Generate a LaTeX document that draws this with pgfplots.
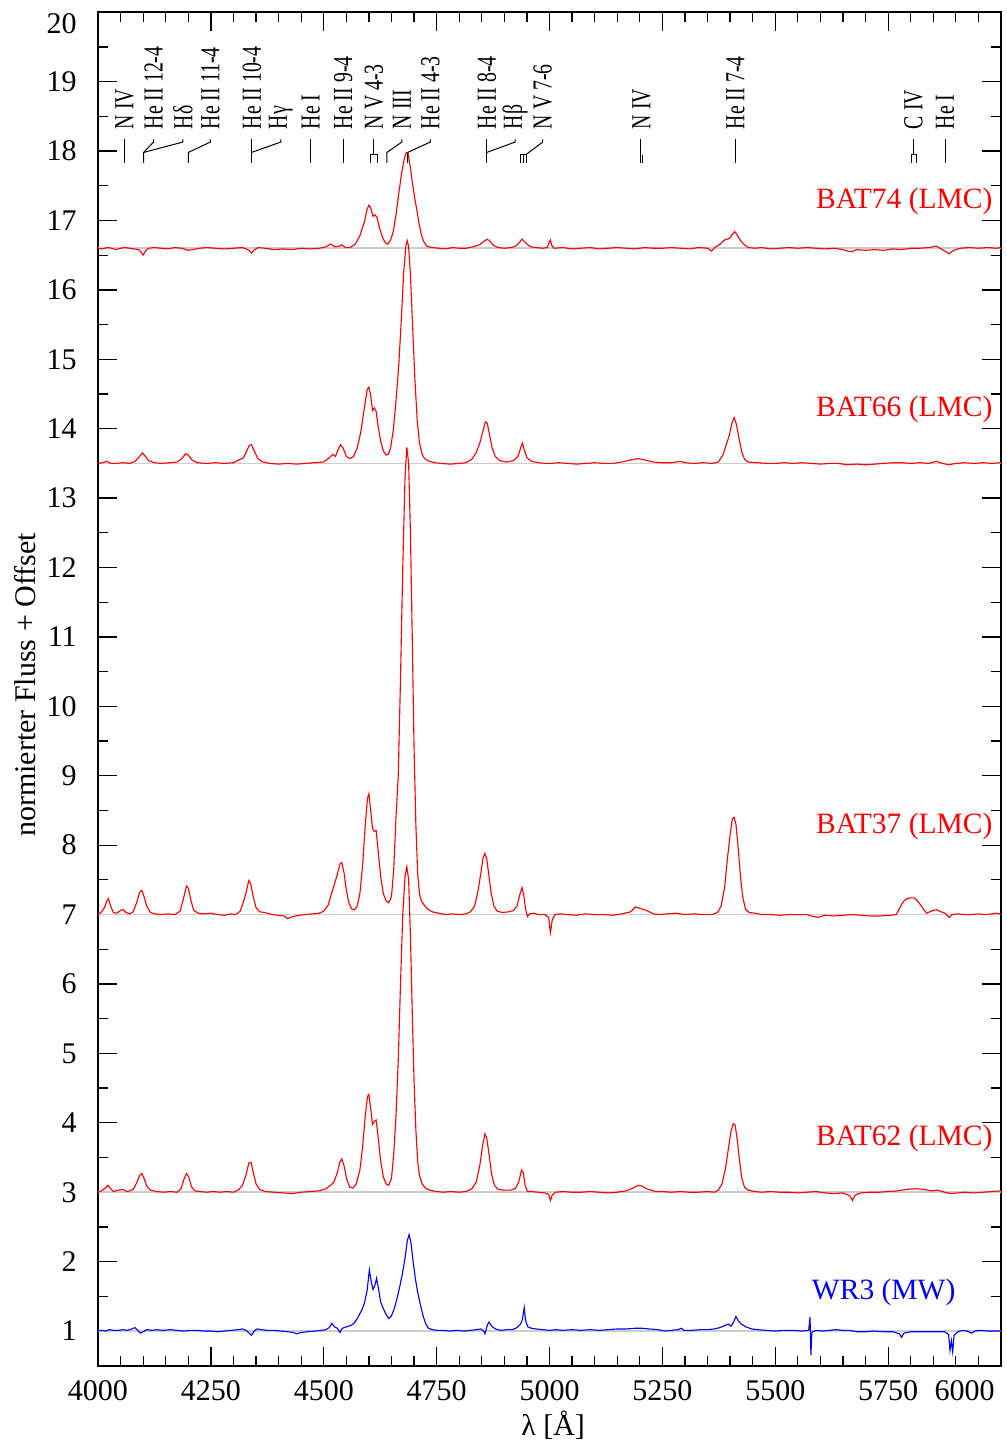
\documentclass[border=0pt]{standalone}
\usepackage{fontspec}
\setmainfont{Liberation Serif}
\usepackage{graphicx}
\usepackage{pgfplots}
\pgfplotsset{compat=1.18}
\definecolor{basegray}{RGB}{205,205,205}
\newcommand{\lab}[1]{\scalebox{0.72}[1]{#1}}
\begin{document}
\begin{tikzpicture}
\useasboundingbox (-39.2pt,-31.7pt) rectangle (363.2pt,546.3pt);
\begin{axis}[
  at={(0,0)}, anchor=south west,
  scale only axis, width=361.2pt, height=541.4pt,
  xmin=4000, xmax=6000, ymin=0.5, ymax=20,
  xtick={4000,4250,...,5750},
  extra x ticks={6000},
  extra x tick style={tick label style={anchor=north east, xshift=1pt}},
  minor xtick={4050,4100,...,5950},
  ytick={1,2,...,19},
  extra y ticks={20},
  extra y tick style={tick label style={yshift=-4.6pt}},
  minor ytick={1.5,2.5,...,19.5},
  major tick length=7.6pt, minor tick length=4pt,
  tick style={black, line width=0.5pt},
  axis line style={line width=0.7pt},
  /pgf/number format/assume math mode=true,
  /pgf/number format/1000 sep={},
  tick label style={font=\fontsize{12}{14}\selectfont},
  xticklabel style={yshift=-2.4pt},
  yticklabel style={xshift=-5pt},
  xlabel={λ [Å]}, ylabel={normierter Fluss + Offset},
  label style={font=\fontsize{12}{14}\selectfont},
  xlabel style={at={(axis description cs:0.504,-0.0438)}, anchor=center},
  ylabel style={at={(axis description cs:-0.0808,0.503)}, anchor=center},
]
% baselines
\addplot[basegray, line width=0.6pt] coordinates {(4000,16.6) (6000,16.6)};
\addplot[basegray, line width=0.6pt] coordinates {(4000,13.5) (6000,13.5)};
\addplot[basegray, line width=0.6pt] coordinates {(4000,7) (6000,7)};
\addplot[basegray, line width=0.6pt] coordinates {(4000,3) (6000,3)};
\addplot[basegray, line width=0.6pt] coordinates {(4000,1) (6000,1)};

% line identification markers
\addplot[black, line width=0.4pt] coordinates {(4059,17.83) (4059,18.17)};
\addplot[black, line width=0.4pt] coordinates {(4101,17.83) (4101,17.98) (4123,18.13) (4123,18.17)};
\addplot[black, line width=0.4pt] coordinates {(4101,17.98) (4188,18.13) (4188,18.17)};
\addplot[black, line width=0.4pt] coordinates {(4200,17.83) (4200,17.98) (4249,18.13) (4249,18.17)};
\addplot[black, line width=0.4pt] coordinates {(4340,17.83) (4340,18.17)};
\addplot[black, line width=0.4pt] coordinates {(4340,17.98) (4405,18.13) (4405,18.17)};
\addplot[black, line width=0.4pt] coordinates {(4471,17.83) (4471,18.17)};
\addplot[black, line width=0.4pt] coordinates {(4543,17.83) (4543,18.17)};
\addplot[black, line width=0.4pt] coordinates {(4604,17.83) (4604,17.95) (4620,17.95) (4620,17.83)};
\addplot[black, line width=0.4pt] coordinates {(4611,17.95) (4611,18.17)};
\addplot[black, line width=0.4pt] coordinates {(4640,17.83) (4640,17.98) (4673,18.13) (4673,18.17)};
\addplot[black, line width=0.4pt] coordinates {(4686,17.83) (4686,17.98) (4736,18.13) (4736,18.17)};
\addplot[black, line width=0.4pt] coordinates {(4861,17.83) (4861,18.17)};
\addplot[black, line width=0.4pt] coordinates {(4861,17.98) (4924,18.13) (4924,18.17)};
\addplot[black, line width=0.4pt] coordinates {(4936,17.83) (4936,17.95) (4948,17.95) (4948,17.83)};
\addplot[black, line width=0.4pt] coordinates {(4942,17.83) (4942,17.95)};
\addplot[black, line width=0.4pt] coordinates {(4948,17.95) (4985,18.13) (4985,18.17)};
\addplot[black, line width=0.4pt] coordinates {(5202,17.83) (5202,18.17)};
\addplot[black, line width=0.4pt] coordinates {(5206,17.83) (5206,17.95)};
\addplot[black, line width=0.4pt] coordinates {(5412,17.83) (5412,18.17)};
\addplot[black, line width=0.4pt] coordinates {(5801,17.83) (5801,17.95) (5812,17.95) (5812,17.83)};
\addplot[black, line width=0.4pt] coordinates {(5806,17.95) (5806,18.17)};
\addplot[black, line width=0.4pt] coordinates {(5876,17.83) (5876,18.17)};

% BAT74
\addplot[red, line width=0.45pt] coordinates {
(4000,16.60) (4010,16.59) (4020,16.61) (4030,16.60) (4040,16.58) (4050,16.60) (4060,16.61) (4070,16.60) (4080,16.59) (4090,16.58) (4095,16.55) (4100,16.50) (4105,16.56) (4112,16.60) (4125,16.61) (4140,16.60) (4155,16.59) (4170,16.61) (4185,16.60) (4200,16.57) (4210,16.58) (4225,16.60) (4240,16.61) (4260,16.60) (4280,16.59) (4300,16.60) (4320,16.61) (4335,16.57) (4340,16.53) (4345,16.57) (4355,16.61) (4370,16.60) (4390,16.58) (4410,16.59) (4430,16.58) (4450,16.60) (4470,16.59) (4490,16.60) (4505,16.62) (4515,16.66) (4525,16.62) (4535,16.63) (4540,16.65) (4548,16.61) (4558,16.61) (4570,16.66) (4580,16.78) (4590,16.98) (4596,17.16) (4600,17.22) (4604,17.18) (4609,17.06) (4614,17.08) (4618,17.04) (4624,16.88) (4630,16.76) (4636,16.68) (4642,16.66) (4648,16.72) (4654,16.84) (4660,17.08) (4666,17.38) (4672,17.66) (4678,17.88) (4683,17.98) (4687,17.96) (4691,17.80) (4696,17.56) (4701,17.34) (4706,17.16) (4711,16.96) (4716,16.80) (4721,16.70) (4728,16.63) (4740,16.61) (4755,16.60) (4770,16.59) (4785,16.61) (4800,16.60) (4815,16.60) (4830,16.62) (4845,16.65) (4855,16.70) (4862,16.73) (4868,16.70) (4876,16.64) (4886,16.61) (4900,16.60) (4915,16.61) (4925,16.63) (4933,16.68) (4939,16.73) (4944,16.70) (4950,16.66) (4958,16.62) (4970,16.61) (4985,16.60) (4995,16.61) (4999,16.68) (5002,16.72) (5005,16.64) (5010,16.60) (5030,16.61) (5050,16.59) (5070,16.60) (5090,16.61) (5110,16.59) (5130,16.60) (5150,16.61) (5170,16.60) (5190,16.59) (5210,16.61) (5230,16.60) (5250,16.60) (5270,16.61) (5290,16.60) (5310,16.59) (5330,16.61) (5350,16.60) (5359,16.56) (5366,16.61) (5378,16.66) (5388,16.72) (5398,16.74) (5405,16.80) (5410,16.84) (5415,16.80) (5422,16.72) (5430,16.66) (5440,16.61) (5455,16.60) (5470,16.61) (5490,16.59) (5510,16.60) (5530,16.61) (5550,16.60) (5570,16.61) (5590,16.60) (5610,16.59) (5630,16.60) (5650,16.58) (5660,16.56) (5670,16.55) (5680,16.58) (5700,16.57) (5720,16.58) (5740,16.57) (5760,16.59) (5780,16.58) (5800,16.60) (5820,16.60) (5840,16.61) (5857,16.63) (5870,16.58) (5885,16.52) (5895,16.57) (5910,16.60) (5930,16.61) (5950,16.60) (5970,16.61) (5990,16.60) (6000,16.61)};

% BAT66
\addplot[red, line width=0.45pt] coordinates {
(4000,13.50) (4010,13.51) (4020,13.53) (4028,13.50) (4040,13.50) (4055,13.51) (4070,13.50) (4082,13.53) (4092,13.60) (4098,13.65) (4104,13.61) (4112,13.54) (4125,13.51) (4140,13.50) (4160,13.51) (4175,13.52) (4186,13.57) (4194,13.64) (4200,13.62) (4208,13.55) (4220,13.51) (4240,13.50) (4260,13.51) (4280,13.50) (4300,13.51) (4315,13.56) (4322,13.58) (4328,13.66) (4335,13.76) (4340,13.77) (4346,13.68) (4354,13.57) (4365,13.52) (4380,13.50) (4400,13.49) (4420,13.50) (4440,13.49) (4460,13.50) (4480,13.51) (4500,13.52) (4512,13.58) (4520,13.63) (4526,13.60) (4532,13.70) (4537,13.77) (4543,13.72) (4550,13.60) (4558,13.57) (4566,13.60) (4574,13.72) (4582,13.95) (4590,14.30) (4596,14.56) (4600,14.60) (4604,14.48) (4608,14.26) (4612,14.30) (4616,14.25) (4620,14.05) (4626,13.82) (4632,13.68) (4638,13.62) (4643,13.63) (4648,13.72) (4654,13.98) (4660,14.40) (4666,14.90) (4672,15.60) (4677,16.25) (4682,16.64) (4685,16.71) (4688,16.62) (4692,16.22) (4697,15.45) (4702,14.70) (4707,14.12) (4712,13.80) (4717,13.65) (4722,13.58) (4730,13.54) (4745,13.51) (4760,13.50) (4780,13.49) (4800,13.50) (4815,13.51) (4828,13.56) (4838,13.66) (4846,13.80) (4852,13.95) (4858,14.10) (4862,14.08) (4867,13.92) (4873,13.72) (4880,13.60) (4890,13.54) (4905,13.52) (4920,13.54) (4930,13.60) (4936,13.72) (4940,13.79) (4944,13.70) (4950,13.58) (4960,13.53) (4975,13.51) (4990,13.50) (5005,13.50) (5020,13.51) (5040,13.50) (5060,13.49) (5080,13.50) (5100,13.51) (5120,13.50) (5140,13.50) (5160,13.52) (5180,13.55) (5196,13.57) (5210,13.55) (5230,13.52) (5250,13.51) (5270,13.51) (5290,13.53) (5300,13.51) (5320,13.50) (5340,13.51) (5360,13.50) (5374,13.52) (5384,13.62) (5392,13.78) (5398,13.90) (5404,14.08) (5409,14.16) (5414,14.06) (5420,13.85) (5426,13.66) (5432,13.56) (5440,13.52) (5460,13.51) (5480,13.50) (5500,13.50) (5520,13.51) (5540,13.50) (5560,13.51) (5580,13.50) (5600,13.49) (5620,13.50) (5640,13.50) (5660,13.48) (5680,13.49) (5700,13.48) (5720,13.49) (5740,13.50) (5760,13.51) (5780,13.51) (5800,13.50) (5820,13.51) (5840,13.50) (5857,13.53) (5870,13.50) (5885,13.48) (5900,13.50) (5920,13.51) (5940,13.50) (5960,13.51) (5980,13.50) (6000,13.51)};

% BAT37
\addplot[red, line width=0.45pt] coordinates {
(4000,7.00) (4008,7.04) (4014,7.10) (4020,7.20) (4023,7.23) (4028,7.12) (4034,7.03) (4042,7.02) (4050,7.06) (4056,7.07) (4062,7.03) (4070,7.01) (4078,7.04) (4086,7.18) (4092,7.32) (4097,7.35) (4102,7.26) (4108,7.12) (4116,7.03) (4126,7.01) (4140,7.00) (4155,7.01) (4170,7.00) (4182,7.05) (4190,7.25) (4196,7.41) (4200,7.38) (4206,7.20) (4212,7.06) (4222,7.02) (4235,7.01) (4250,7.02) (4265,7.00) (4280,6.99) (4295,7.01) (4305,7.00) (4315,7.05) (4322,7.18) (4328,7.32) (4334,7.49) (4338,7.45) (4344,7.25) (4350,7.10) (4358,7.04) (4370,7.03) (4385,7.00) (4400,6.99) (4412,6.98) (4420,6.94) (4430,6.97) (4445,6.99) (4460,7.00) (4475,7.01) (4490,7.02) (4500,7.05) (4510,7.14) (4517,7.30) (4522,7.40) (4530,7.58) (4536,7.73) (4540,7.75) (4545,7.60) (4550,7.35) (4556,7.16) (4562,7.08) (4568,7.07) (4574,7.12) (4580,7.30) (4586,7.70) (4592,8.30) (4597,8.68) (4600,8.74) (4604,8.50) (4608,8.24) (4612,8.20) (4616,8.21) (4620,7.95) (4626,7.55) (4632,7.30) (4638,7.20) (4644,7.17) (4650,7.26) (4655,7.65) (4660,8.40) (4665,9.00) (4670,10.40) (4675,12.00) (4680,13.30) (4684,13.73) (4688,13.50) (4692,12.50) (4696,11.00) (4700,9.40) (4704,8.30) (4708,7.60) (4712,7.30) (4716,7.20) (4722,7.14) (4730,7.08) (4740,7.04) (4755,7.02) (4770,7.00) (4785,7.01) (4800,7.00) (4815,7.01) (4825,7.04) (4834,7.12) (4842,7.35) (4848,7.60) (4853,7.82) (4857,7.88) (4861,7.80) (4866,7.55) (4871,7.30) (4877,7.12) (4884,7.05) (4895,7.03) (4910,7.04) (4920,7.06) (4928,7.12) (4934,7.28) (4939,7.39) (4943,7.28) (4947,7.08) (4951,6.97) (4956,7.01) (4965,7.02) (4975,7.00) (4990,7.00) (4998,6.96) (5002,6.74) (5006,6.92) (5012,7.00) (5025,7.01) (5040,7.00) (5060,6.99) (5080,7.01) (5100,7.00) (5120,7.00) (5140,6.99) (5160,7.01) (5180,7.04) (5190,7.11) (5200,7.09) (5215,7.06) (5230,7.01) (5245,7.00) (5260,7.01) (5280,7.02) (5300,7.00) (5320,7.01) (5340,7.00) (5360,7.00) (5372,7.03) (5380,7.12) (5388,7.40) (5394,7.80) (5400,8.15) (5405,8.38) (5409,8.40) (5413,8.30) (5418,7.95) (5423,7.55) (5428,7.25) (5434,7.08) (5442,7.03) (5455,7.02) (5470,7.00) (5490,7.00) (5510,6.99) (5530,7.00) (5550,7.00) (5570,7.00) (5585,6.97) (5595,6.96) (5610,6.99) (5630,6.98) (5650,6.99) (5670,7.00) (5690,6.99) (5710,6.98) (5730,6.98) (5755,6.99) (5768,7.00) (5776,7.10) (5784,7.19) (5792,7.23) (5800,7.24) (5808,7.24) (5816,7.19) (5824,7.12) (5830,7.06) (5836,7.02) (5845,7.05) (5857,7.07) (5867,7.04) (5876,7.02) (5885,6.96) (5892,7.00) (5905,7.01) (5920,7.00) (5935,7.00) (5950,7.01) (5965,7.00) (5980,7.01) (5992,7.02) (6000,7.00)};

% BAT62
\addplot[red, line width=0.45pt] coordinates {
(4000,3.00) (4008,3.02) (4016,3.06) (4022,3.10) (4027,3.06) (4034,3.01) (4045,3.03) (4055,3.04) (4065,3.01) (4078,3.04) (4086,3.14) (4092,3.24) (4097,3.27) (4102,3.20) (4108,3.09) (4116,3.03) (4130,3.01) (4145,3.00) (4160,3.01) (4175,3.00) (4184,3.05) (4190,3.18) (4196,3.27) (4201,3.22) (4207,3.08) (4214,3.02) (4225,3.01) (4240,3.00) (4255,3.01) (4270,3.00) (4285,3.01) (4300,3.00) (4312,3.04) (4320,3.10) (4328,3.25) (4334,3.42) (4339,3.43) (4344,3.28) (4350,3.12) (4358,3.04) (4370,3.01) (4390,3.00) (4410,2.99) (4430,2.98) (4450,3.00) (4470,3.01) (4490,3.02) (4505,3.05) (4515,3.10) (4522,3.14) (4530,3.28) (4536,3.44) (4540,3.48) (4545,3.38) (4551,3.18) (4558,3.07) (4565,3.06) (4572,3.12) (4580,3.32) (4586,3.65) (4592,4.10) (4597,4.38) (4600,4.41) (4604,4.20) (4608,3.98) (4612,4.02) (4616,4.04) (4620,3.82) (4626,3.45) (4632,3.22) (4638,3.12) (4644,3.10) (4650,3.20) (4655,3.55) (4660,4.10) (4665,4.90) (4670,6.00) (4675,7.00) (4680,7.55) (4684,7.69) (4688,7.50) (4692,6.70) (4696,5.60) (4700,4.60) (4704,3.90) (4708,3.45) (4712,3.24) (4718,3.12) (4725,3.06) (4735,3.03) (4750,3.01) (4765,3.00) (4780,3.01) (4800,3.00) (4815,3.01) (4828,3.05) (4838,3.15) (4846,3.40) (4852,3.68) (4857,3.84) (4861,3.78) (4866,3.55) (4872,3.25) (4878,3.10) (4886,3.04) (4900,3.03) (4915,3.03) (4925,3.06) (4932,3.15) (4938,3.32) (4942,3.28) (4946,3.10) (4951,3.01) (4960,3.01) (4975,3.00) (4990,2.99) (4998,2.97) (5002,2.88) (5006,2.96) (5014,3.00) (5030,3.01) (5050,3.00) (5070,3.00) (5090,3.01) (5110,3.00) (5130,2.99) (5150,3.00) (5170,3.02) (5185,3.06) (5196,3.10) (5205,3.09) (5215,3.05) (5225,3.03) (5235,3.01) (5250,3.01) (5270,3.00) (5290,3.01) (5310,3.00) (5330,3.00) (5350,3.01) (5365,3.00) (5374,3.03) (5382,3.12) (5390,3.35) (5396,3.62) (5402,3.88) (5407,3.99) (5411,3.97) (5416,3.75) (5421,3.45) (5426,3.20) (5432,3.07) (5440,3.03) (5455,3.01) (5470,3.00) (5490,3.01) (5510,3.00) (5530,3.00) (5550,2.99) (5570,3.00) (5590,3.01) (5610,2.99) (5630,2.98) (5650,2.99) (5665,2.95) (5671,2.88) (5677,2.96) (5690,2.99) (5710,3.00) (5730,3.00) (5750,3.01) (5770,3.02) (5790,3.04) (5810,3.05) (5830,3.04) (5845,3.02) (5860,3.03) (5875,3.00) (5890,2.98) (5905,2.99) (5920,3.00) (5940,2.99) (5960,3.00) (5980,3.01) (6000,3.02)};

% WR3
\addplot[blue, line width=0.45pt] coordinates {
(4000,1.00) (4008,1.01) (4016,1.00) (4025,1.02) (4035,1.01) (4045,1.01) (4055,1.02) (4065,1.01) (4075,1.03) (4082,1.05) (4088,1.01) (4094,0.97) (4100,0.99) (4108,1.02) (4120,1.01) (4130,1.02) (4145,1.01) (4160,1.02) (4175,1.01) (4190,1.00) (4205,1.01) (4220,1.01) (4235,1.00) (4250,1.00) (4265,0.99) (4280,1.00) (4295,1.01) (4310,1.02) (4320,1.03) (4328,1.01) (4335,0.97) (4340,0.94) (4346,1.00) (4352,1.03) (4362,1.02) (4375,1.01) (4390,1.01) (4405,1.00) (4420,0.99) (4432,0.98) (4440,0.96) (4450,0.98) (4465,0.99) (4480,1.00) (4495,1.01) (4505,1.02) (4512,1.05) (4518,1.11) (4524,1.06) (4530,1.04) (4536,0.98) (4541,1.04) (4550,1.06) (4560,1.08) (4568,1.12) (4576,1.20) (4584,1.30) (4590,1.40) (4596,1.58) (4601,1.88) (4605,1.72) (4609,1.60) (4613,1.65) (4617,1.76) (4621,1.62) (4626,1.42) (4632,1.32) (4638,1.24) (4644,1.18) (4650,1.22) (4656,1.32) (4662,1.46) (4668,1.63) (4674,1.82) (4680,2.05) (4685,2.30) (4689,2.39) (4693,2.28) (4698,2.00) (4703,1.75) (4708,1.56) (4714,1.38) (4720,1.22) (4726,1.10) (4732,1.04) (4740,1.02) (4752,1.01) (4765,1.01) (4780,1.00) (4795,1.01) (4810,1.00) (4825,1.01) (4838,1.02) (4848,1.03) (4854,1.00) (4857,0.96) (4862,1.08) (4866,1.13) (4872,1.07) (4880,1.03) (4892,1.01) (4905,1.02) (4918,1.02) (4928,1.05) (4936,1.10) (4940,1.17) (4944,1.34) (4947,1.15) (4952,1.06) (4960,1.04) (4970,1.03) (4985,1.02) (5000,1.01) (5015,1.02) (5030,1.01) (5050,1.02) (5070,1.01) (5090,1.02) (5110,1.01) (5130,1.02) (5150,1.03) (5170,1.03) (5190,1.04) (5205,1.04) (5220,1.03) (5240,1.02) (5255,1.00) (5270,1.01) (5285,1.02) (5292,1.04) (5298,1.01) (5315,1.01) (5335,1.02) (5350,1.02) (5365,1.03) (5378,1.05) (5388,1.08) (5396,1.10) (5402,1.07) (5407,1.12) (5413,1.21) (5418,1.15) (5425,1.10) (5435,1.06) (5448,1.03) (5460,1.02) (5480,1.01) (5500,1.00) (5520,1.01) (5540,1.01) (5560,1.00) (5574,1.01) (5577,1.20) (5579,0.65) (5581,0.98) (5590,1.01) (5605,1.00) (5620,1.01) (5635,1.02) (5650,1.01) (5665,1.01) (5680,0.99) (5700,0.99) (5720,1.00) (5740,0.99) (5760,0.99) (5775,0.96) (5780,0.91) (5785,0.97) (5800,0.99) (5820,0.99) (5840,0.99) (5860,0.99) (5875,0.99) (5884,0.95) (5887,0.72) (5890,0.86) (5893,0.70) (5896,0.94) (5905,0.99) (5915,1.01) (5925,1.00) (5935,0.97) (5942,1.00) (5955,1.01) (5970,1.00) (5985,1.00) (6000,1.00)};

% spectrum labels
\node[red, anchor=base east, inner sep=0, font=\fontsize{11.8}{14}\selectfont] at (axis cs:5982,17.17) {BAT74 (LMC)};
\node[red, anchor=base east, inner sep=0, font=\fontsize{11.8}{14}\selectfont] at (axis cs:5982,14.17) {BAT66 (LMC)};
\node[red, anchor=base east, inner sep=0, font=\fontsize{11.8}{14}\selectfont] at (axis cs:5982,8.17) {BAT37 (LMC)};
\node[red, anchor=base east, inner sep=0, font=\fontsize{11.8}{14}\selectfont] at (axis cs:5982,3.68) {BAT62 (LMC)};
\node[blue, anchor=base east, inner sep=0, font=\fontsize{11.8}{14}\selectfont] at (axis cs:5900,1.455) {WR3 (MW)};

% line labels
\begin{scope}[every node/.style={rotate=90, anchor=west, inner sep=0, font=\fontsize{11}{13}\selectfont}]
\node at (axis cs:4059,18.31) {\lab{N IV}};
\node at (axis cs:4123,18.31) {\lab{He II 12-4}};
\node at (axis cs:4188,18.31) {\lab{Hδ}};
\node at (axis cs:4249,18.31) {\lab{He II 11-4}};
\node at (axis cs:4341,18.31) {\lab{He II 10-4}};
\node at (axis cs:4405,18.31) {\lab{Hγ}};
\node at (axis cs:4471,18.31) {\lab{He I}};
\node at (axis cs:4543,18.31) {\lab{He II 9-4}};
\node at (axis cs:4611,18.31) {\lab{N V 4-3}};
\node at (axis cs:4673,18.31) {\lab{N III}};
\node at (axis cs:4736,18.31) {\lab{He II 4-3}};
\node at (axis cs:4861,18.31) {\lab{He II 8-4}};
\node at (axis cs:4924,18.31) {\lab{Hβ}};
\node at (axis cs:4985,18.31) {\lab{N V 7-6}};
\node at (axis cs:5204,18.31) {\lab{N IV}};
\node at (axis cs:5412,18.31) {\lab{He II 7-4}};
\node at (axis cs:5806,18.31) {\lab{C IV}};
\node at (axis cs:5876,18.31) {\lab{He I}};
\end{scope}
\end{axis}
\end{tikzpicture}
\end{document}
